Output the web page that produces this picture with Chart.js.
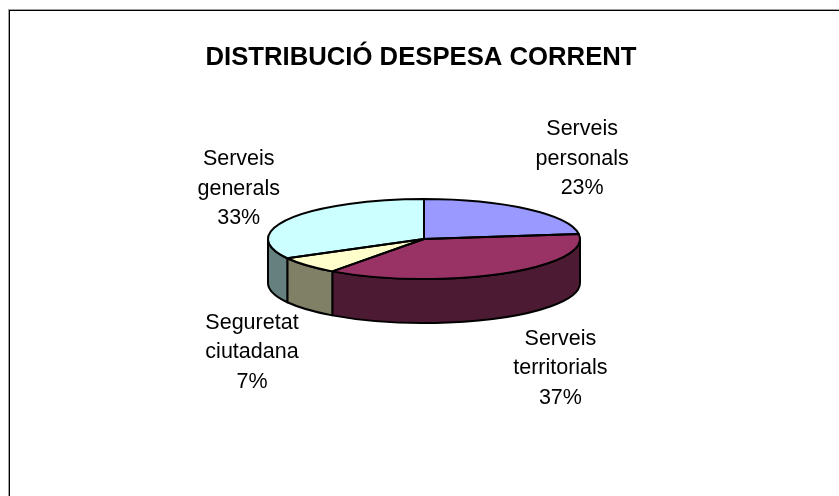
<!DOCTYPE html>
<html>
<head>
<meta charset="utf-8">
<title>Distribució despesa corrent</title>
<script src="https://cdn.jsdelivr.net/npm/chart.js@4/dist/chart.umd.min.js"></script>
<style>
    html, body { margin: 0; padding: 0; background: #fff; }
    canvas { display: block; }
</style>
</head>
<body>
<canvas id="pieChart" width="839" height="496"></canvas>
<script>
const titol = 'DISTRIBUCIÓ DESPESA CORRENT';
const categories = ['Serveis personals', 'Serveis territorials', 'Seguretat ciutadana', 'Serveis generals'];
const valors = [23, 37, 7, 33];

const colorsCara = ['#9999ff', '#993366', '#ffffcc', '#ccffff'];
const colorsLateral = ['#4d4d80', '#4d1a33', '#808066', '#668080'];

// tilt of the pie: height/width of the top face and wall height in px
const aixafat = 40 / 156;
const profunditat = 44;
// label block centre, relative to the slice's mid point on the rim
const desplLabels = [[55, -50], [57, 95], [-55, 87], [-51, -30]];
const fontLabels = '21.5px "Liberation Sans", Arial, sans-serif';
const interlinia = 29.5;

const pie3d = {
    id: 'pie3d',
    afterLayout(chart) {
        // title sits a little left of the pie centre
        chart.titleBlock.left -= 3;
        chart.titleBlock.right -= 3;
    },
    beforeDraw(chart) {
        const c = chart.ctx;
        c.save();
        // sheet frame, only top and left are visible
        c.fillStyle = '#a0a0a0';
        c.fillRect(8, 9, 831, 1);
        c.fillRect(8, 9, 1, 487);
        c.fillStyle = '#000';
        c.fillRect(9, 10, 830, 1);
        c.fillRect(9, 10, 1, 486);
        c.restore();
    },
    beforeDatasetsDraw(chart) {
        const c = chart.ctx;
        const arcs = chart.getDatasetMeta(0).data;
        const cx = arcs[0].x, cy = arcs[0].y, rx = arcs[0].outerRadius, ry = rx * aixafat;
        const ample = 2 * Math.PI;

        // walls: only the front half of the rim can be seen
        c.save();
        c.strokeStyle = '#000';
        c.lineWidth = 2;
        c.lineJoin = 'round';
        arcs.forEach((arc, i) => {
            const a0 = ((arc.startAngle % ample) + ample) % ample;
            const a1 = ((arc.endAngle % ample) + ample) % ample;
            let ini = a0, fi = a1;
            if (a0 > a1) ini = a0 > Math.PI ? 0 : a0;
            if (ini >= Math.PI) return;
            fi = Math.min(fi, Math.PI);
            if (fi <= ini) return;
            c.beginPath();
            c.ellipse(cx, cy, rx, ry, 0, ini, fi);
            c.ellipse(cx, cy + profunditat, rx, ry, 0, fi, ini, true);
            c.closePath();
            c.fillStyle = colorsLateral[i];
            c.fill();
            c.stroke();
        });
        c.restore();

        // the library draws the arcs, squashed into the top face
        c.save();
        c.translate(cx, cy);
        c.scale(1, aixafat);
        c.translate(-cx, -cy);
    },
    afterDatasetsDraw(chart) {
        const c = chart.ctx;
        c.restore();

        const arcs = chart.getDatasetMeta(0).data;
        const cx = arcs[0].x, cy = arcs[0].y, rx = arcs[0].outerRadius, ry = rx * aixafat;

        // outlines go on afterwards so the stroke keeps its width
        c.save();
        c.strokeStyle = '#000';
        c.lineWidth = 2;
        c.lineJoin = 'round';
        arcs.forEach((arc) => {
            c.beginPath();
            c.moveTo(cx, cy);
            c.ellipse(cx, cy, rx, ry, 0, arc.startAngle, arc.endAngle);
            c.closePath();
            c.stroke();
        });

        const total = valors.reduce((a, b) => a + b, 0);
        c.fillStyle = '#000';
        c.font = fontLabels;
        c.textAlign = 'center';
        c.textBaseline = 'middle';
        arcs.forEach((arc, i) => {
            const mig = (arc.startAngle + arc.endAngle) / 2;
            const x = cx + rx * Math.cos(mig) + desplLabels[i][0];
            const y = cy + ry * Math.sin(mig) + desplLabels[i][1];
            const linies = categories[i].split(' ');
            linies.push(Math.round(valors[i] / total * 100) + '%');
            linies.forEach((text, n) => {
                c.fillText(text, x, y + (n - (linies.length - 1) / 2) * interlinia);
            });
        });
        c.restore();
    }
};

new Chart(document.getElementById('pieChart'), {
    type: 'pie',
    data: {
        labels: categories,
        datasets: [{
            data: valors,
            backgroundColor: colorsCara,
            borderWidth: 0,
            hoverOffset: 0
        }]
    },
    options: {
        responsive: false,
        animation: false,
        events: [],
        layout: {
            padding: { left: 9, right: 0, top: 36, bottom: 101 }
        },
        plugins: {
            legend: { display: false },
            tooltip: { enabled: false },
            title: {
                display: true,
                text: titol,
                color: '#000',
                font: { family: '"Liberation Sans", Arial, sans-serif', size: 25.7, weight: 'bold', lineHeight: 1.2 },
                padding: { top: 6.5, bottom: 9.66 }
            }
        }
    },
    plugins: [pie3d]
});
</script>
</body>
</html>
